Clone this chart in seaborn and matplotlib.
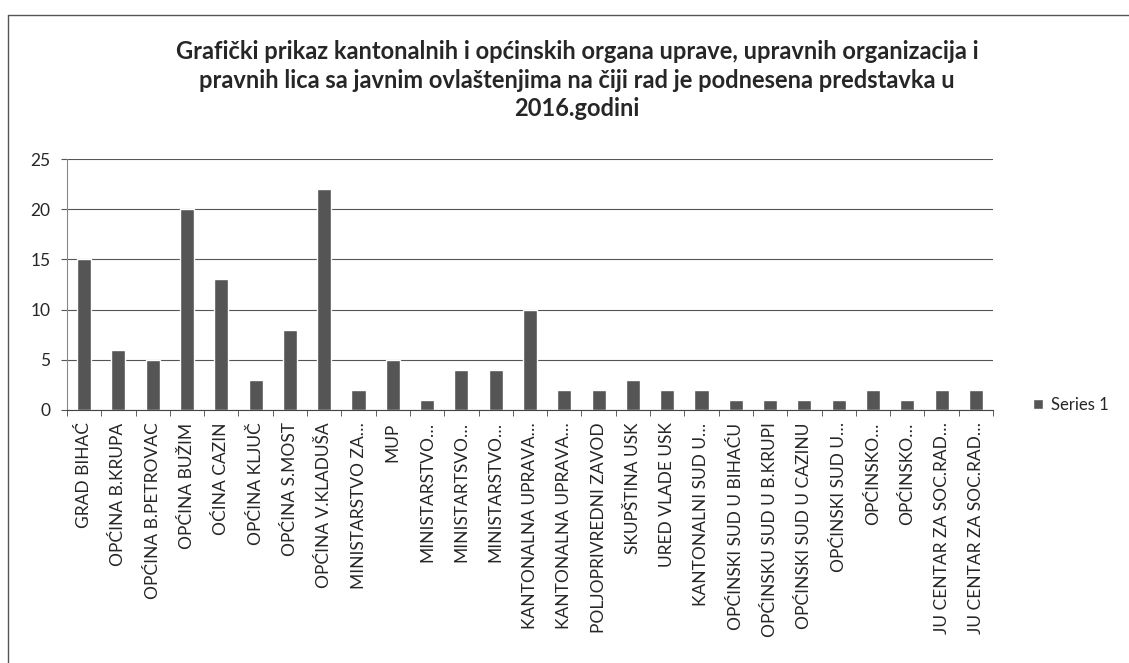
import numpy as np
import pandas as pd
import seaborn as sns
import matplotlib.pyplot as plt
from matplotlib.lines import Line2D

# podaci sa grafika
kategorije = [
    'GRAD BIHAĆ', 'OPĆINA B.KRUPA', 'OPĆINA B.PETROVAC', 'OPĆINA BUŽIM',
    'OĆINA CAZIN', 'OPĆINA KLJUČ', 'OPĆINA S.MOST', 'OPĆINA V.KLADUŠA',
    'MINISTARSTVO ZA…', 'MUP', 'MINISTARSTVO…', 'MINISTARTSVO…',
    'MINISTARSTVO…', 'KANTONALNA UPRAVA…', 'KANTONALNA UPRAVA…',
    'POLJOPRIVREDNI ZAVOD', 'SKUPŠTINA USK', 'URED VLADE USK',
    'KANTONALNI SUD U…', 'OPĆINSKI SUD U BIHAĆU', 'OPĆINSKU SUD U B.KRUPI',
    'OPĆINSKI SUD U CAZINU', 'OPĆINSKI SUD U…', 'OPĆINSKO…', 'OPĆINSKO…',
    'JU CENTAR ZA SOC.RAD…', 'JU CENTAR ZA SOC.RAD…',
]
vrijednosti = [15, 6, 5, 20, 13, 3, 8, 22, 2, 5, 1, 4, 4, 10, 2,
               2, 3, 2, 2, 1, 1, 1, 1, 2, 1, 2, 2]
y_ticks = [0, 5, 10, 15, 20, 25]
naslov = ('Grafički prikaz kantonalnih i općinskih organa uprave, upravnih organizacija i\n'
          'pravnih lica sa javnim ovlaštenjima na čiji rad je podnesena predstavka u\n'
          '2016.godini')

sns.set_style('white')
plt.rcParams['font.family'] = ['Lato', 'DejaVu Sans']

# duplikati u nazivima -> koristimo indeks kao x
df = pd.DataFrame({'poz': range(len(kategorije)), 'broj': vrijednosti})

W, H = 1129, 663
fig = plt.figure(figsize=(W / 100, H / 100), dpi=100)
ax = fig.add_axes([67 / W, 1 - 410 / H, (993 - 67) / W, (410 - 159) / H])

sns.barplot(data=df, x='poz', y='broj', color='#555555', width=0.41,
            saturation=1, label='Series 1', ax=ax)

ax.set_ylim(0, 25)
ax.set_yticks(y_ticks)
ax.set_xlim(-0.5, len(kategorije) - 0.5)
ax.set_xticks(range(len(kategorije)))
ax.set_xticklabels(kategorije, rotation=90, fontsize=12.5)
ax.set_xticks(np.arange(-0.5, len(kategorije), 1), minor=True)
ax.tick_params(axis='x', which='major', length=0, pad=9)
ax.tick_params(axis='x', which='minor', length=4, color='#444444', bottom=True)
ax.tick_params(axis='y', labelsize=12.5, length=4, color='#555555', left=True, pad=8)
ax.set_xlabel('')
ax.set_ylabel('')
ax.yaxis.grid(True, color='#555555', linewidth=0.8)
ax.set_axisbelow(True)
for s in ['top', 'right']:
    ax.spines[s].set_visible(False)
ax.spines['left'].set_color('#888888')
ax.spines['bottom'].set_color('#444444')

fig.text(577 / W, 1 - 40 / H, naslov, ha='center', va='top', fontsize=17,
         fontweight='bold', linespacing=1.3)

ax.legend(loc='center left', bbox_to_anchor=(1033 / W, 1 - 405 / H),
          bbox_transform=fig.transFigure, frameon=False, fontsize=12,
          borderpad=0, borderaxespad=0,
          handlelength=0.6, handleheight=0.6, handletextpad=0.5)

# okvir skeniranog grafika (samo gornja i lijeva linija)
fig.add_artist(Line2D([8 / W, 1], [1 - 15 / H, 1 - 15 / H], transform=fig.transFigure,
                      color='#555555', linewidth=1))
fig.add_artist(Line2D([8 / W, 8 / W], [0, 1 - 15 / H], transform=fig.transFigure,
                      color='#555555', linewidth=1))

fig.savefig('out.png', dpi=100)
